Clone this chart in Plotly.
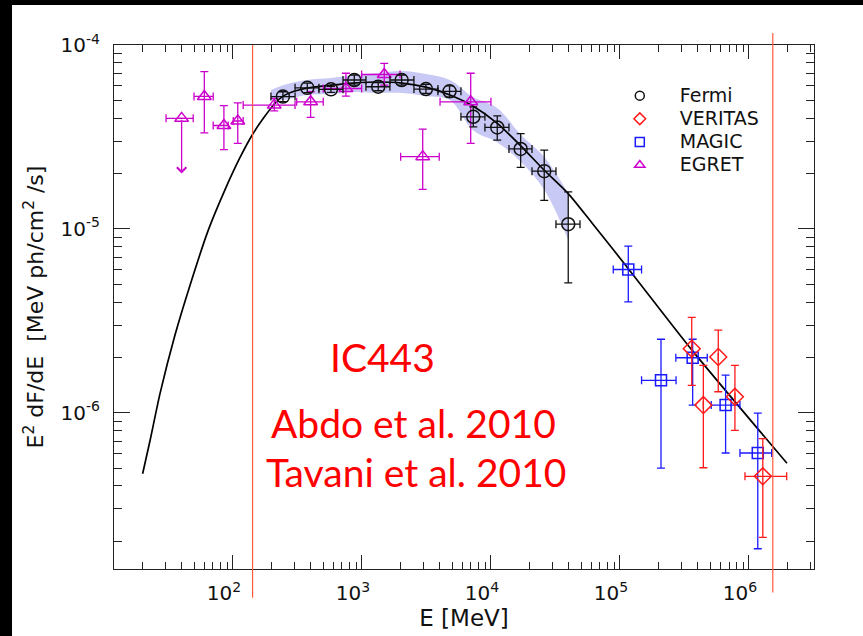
import numpy as np
import plotly.graph_objects as go

# ---------------- data ----------------
# Fermi-LAT (Abdo et al. 2010)
fermi_e = [244, 377, 575, 872, 1337, 2031, 3133, 4775, 7295, 11190, 16990, 25880, 39720]
fermi_e_lo = [197, 303, 464, 713, 1074, 1648, 2529, 3882, 5851, 8977, 13790, 20800, 31900]
fermi_e_hi = [303, 464, 713, 1074, 1648, 2529, 3882, 5851, 8977, 13790, 20800, 31900, 48980]
fermi_f = [5.24e-5, 5.85e-5, 5.74e-5, 6.45e-5, 5.93e-5, 6.45e-5, 5.76e-5, 5.60e-5,
           4.07e-5, 3.56e-5, 2.72e-5, 2.06e-5, 1.06e-5]
fermi_f_hi = [5.57e-5, 6.21e-5, 5.96e-5, 6.87e-5, 6.24e-5, 6.87e-5, 6.11e-5, 6.00e-5,
              4.61e-5, 4.12e-5, 3.30e-5, 2.68e-5, 1.59e-5]
fermi_f_lo = [4.92e-5, 5.51e-5, 5.53e-5, 6.05e-5, 5.64e-5, 6.05e-5, 5.46e-5, 5.21e-5,
              3.59e-5, 3.04e-5, 2.16e-5, 1.43e-5, 5.08e-6]

# Fermi systematic band
band_e = [197, 244, 374, 575, 866, 1330, 2034, 3133, 4800, 7250, 11150, 17100, 25900, 39700]
band_hi = [5.69e-5, 6.05e-5, 6.45e-5, 6.61e-5, 6.87e-5, 7.05e-5, 7.22e-5, 6.95e-5, 6.45e-5,
           5.21e-5, 4.54e-5, 3.24e-5, 2.46e-5, 1.56e-5]
band_lo = [5.02e-5, 5.02e-5, 5.35e-5, 5.41e-5, 5.55e-5, 5.48e-5, 5.48e-5, 5.27e-5, 5.02e-5,
           3.44e-5, 2.96e-5, 2.31e-5, 1.63e-5, 8.68e-6]

# EGRET (Tavani et al. 2010)
egret_e = [40.0, 60.0, 85.1, 109, 209, 400, 751, 1489, 2958, 6966]
egret_e_lo = [30.3, 49.9, 70.3, 100.5, 120, 312, 501, 995, 1995, 4030]
egret_e_hi = [49.2, 70.3, 92.0, 120, 303, 501, 995, 1973, 3972, 10000]
egret_f = [3.99e-5, 5.25e-5, 3.65e-5, 3.86e-5, 4.71e-5, 4.91e-5, 5.80e-5, 6.91e-5, 2.47e-5, 4.91e-5]
egret_f_hi = [None, 7.16e-5, 4.68e-5, 4.85e-5, 5.13e-5, 5.57e-5, 7.02e-5, 7.95e-5, 3.49e-5, 7.02e-5]
egret_f_lo = [None, 3.33e-5, 2.70e-5, 2.92e-5, 4.38e-5, 4.04e-5, 5.27e-5, 6.05e-5, 1.64e-5, 2.92e-5]
egret_ul_tip = 2.00e-5   # arrow tip of the upper limit (first EGRET point)

# MAGIC
magic_e = [1.16e5, 2.08e5, 3.66e5, 6.59e5, 1.17e6]
magic_e_lo = [8.87e4, 1.47e5, 2.71e5, 5.10e5, 8.51e5]
magic_e_hi = [1.47e5, 2.72e5, 4.75e5, 8.51e5, 1.50e6]
magic_f = [6.01e-6, 1.50e-6, 1.99e-6, 1.10e-6, 6.04e-7]
magic_f_hi = [8.05e-6, 2.51e-6, 2.51e-6, 1.60e-6, 9.96e-7]
magic_f_lo = [4.01e-6, 5.00e-7, 1.10e-6, 6.04e-7, 1.82e-7]

# VERITAS
veritas_e = [3.60e5, 4.43e5, 5.78e5, 7.78e5, 1.28e6]
veritas_e_lo = [None, None, None, None, 9.31e5]
veritas_e_hi = [None, None, None, None, 1.96e6]
veritas_f = [2.23e-6, 1.10e-6, 2.01e-6, 1.22e-6, 4.51e-7]
veritas_f_hi = [3.30e-6, 1.81e-6, 2.81e-6, 1.81e-6, 7.23e-7]
veritas_f_lo = [1.41e-6, 5.02e-7, 1.30e-6, 8.02e-7, 2.10e-7]

# model curve
model_e = [19.95, 22.8, 27.2, 35.5, 46.5, 64.4, 86.7, 113, 141, 172, 212, 245, 303, 375, 575,
           867, 1330, 2042, 3133, 4808, 7244, 11140, 17100, 25760, 39540, 61800, 115300,
           361400, 1.97e6]
model_f = [4.66e-7, 7.08e-7, 1.27e-6, 2.64e-6, 4.94e-6, 9.84e-6, 1.63e-5, 2.43e-5, 3.24e-5,
           3.99e-5, 4.82e-5, 5.27e-5, 5.62e-5, 5.83e-5, 6.05e-5, 6.21e-5, 6.29e-5, 6.21e-5,
           5.90e-5, 5.35e-5, 4.66e-5, 3.76e-5, 2.82e-5, 2.09e-5, 1.56e-5, 1.06e-5, 6.11e-6,
           2.19e-6, 5.31e-7]

# energy thresholds (vertical red lines)
threshold_e = [142, 1.53e6]

x_tickvals = [1e2, 1e3, 1e4, 1e5, 1e6]
x_ticktext = ["10<sup>2</sup>", "10<sup>3</sup>", "10<sup>4</sup>", "10<sup>5</sup>", "10<sup>6</sup>"]
y_tickvals = [1e-6, 1e-5, 1e-4]
y_ticktext = ["10<sup>-6</sup>", "10<sup>-5</sup>", "10<sup>-4</sup>"]
x_minor = [m * 10 ** k for k in range(1, 7) for m in range(2, 10)]
y_minor = [m * 10.0 ** k for k in range(-7, -4) for m in range(2, 10)]

legend_names = ["Fermi", "VERITAS", "MAGIC", "EGRET"]
legend_symbols = ["circle-open", "diamond-open", "square-open", "triangle-up-open"]
legend_colors = ["#111111", "#ff1a1a", "#1a1aff", "#cc00cc"]

text_lines = ["IC443", "Abdo et al. 2010", "Tavani et al. 2010"]


def err(center, hi, lo):
    plus = [None if h is None else h - c for c, h in zip(center, hi)]
    minus = [None if l is None else c - l for c, l in zip(center, lo)]
    return plus, minus


fig = go.Figure()

# band
fig.add_trace(go.Scatter(x=band_e, y=band_lo, mode="lines", line=dict(width=0, shape="spline"),
                         showlegend=False, hoverinfo="skip"))
fig.add_trace(go.Scatter(x=band_e, y=band_hi, mode="lines", line=dict(width=0, shape="spline"),
                         fill="tonexty", fillcolor="#c9c9f6", showlegend=False, hoverinfo="skip"))

# model
fig.add_trace(go.Scatter(x=model_e, y=model_f, mode="lines",
                         line=dict(color="black", width=1.7, shape="spline", smoothing=0.7),
                         showlegend=False))


def add_points(e, elo, ehi, f, fhi, flo, color, symbol, size):
    xp, xm = err(e, ehi, elo)
    yp, ym = err(f, fhi, flo)
    fig.add_trace(go.Scatter(
        x=e, y=f, mode="markers",
        marker=dict(symbol=symbol, size=size, color=color, line=dict(color=color, width=1.5)),
        error_x=dict(type="data", symmetric=False, array=xp, arrayminus=xm,
                     color=color, thickness=1.3, width=4),
        error_y=dict(type="data", symmetric=False, array=yp, arrayminus=ym,
                     color=color, thickness=1.3, width=4),
        showlegend=False))


add_points(egret_e, egret_e_lo, egret_e_hi, egret_f, egret_f_hi, egret_f_lo,
           legend_colors[3], "triangle-up-open", 12)
add_points(fermi_e, fermi_e_lo, fermi_e_hi, fermi_f, fermi_f_hi, fermi_f_lo,
           legend_colors[0], "circle-open", 13)
add_points(magic_e, magic_e_lo, magic_e_hi, magic_f, magic_f_hi, magic_f_lo,
           legend_colors[2], "square-open", 11)
add_points(veritas_e, veritas_e_lo, veritas_e_hi, veritas_f, veritas_f_hi, veritas_f_lo,
           legend_colors[1], "diamond-open", 13)

# legend-only entries
for name, sym, col in zip(legend_names, legend_symbols, legend_colors):
    fig.add_trace(go.Scatter(x=[None], y=[None], mode="markers",
                             name="<span style='font-size:19px'>%s</span>" % name,
                             marker=dict(symbol=sym, size=9, color=col, line=dict(color=col, width=1.5))))

# upper-limit arrow
fig.add_annotation(x=np.log10(egret_e[0]), y=np.log10(egret_ul_tip),
                   ax=np.log10(egret_e[0]), ay=np.log10(egret_f[0]),
                   xref="x", yref="y", axref="x", ayref="y", text="",
                   showarrow=True, arrowhead=4, arrowsize=1.4, arrowwidth=1.3,
                   arrowcolor=legend_colors[3])

# threshold lines
fig.add_shape(type="line", xref="x", yref="paper", x0=threshold_e[0], x1=threshold_e[0],
              y0=-0.055, y1=1.0, line=dict(color="#ff5a3c", width=1.2))
fig.add_shape(type="line", xref="x", yref="paper", x0=threshold_e[1], x1=threshold_e[1],
              y0=-0.045, y1=1.023, line=dict(color="#ff5a3c", width=1.2))

# black frame of the picture (white page inside a black border)
fig.add_shape(type="rect", xref="paper", yref="paper", x0=-0.1457, x1=1.3, y0=-0.3, y1=1.0763,
              fillcolor="white", line=dict(width=0), layer="below")

# red text
text_pos = [(0.383, 0.405), (0.428, 0.279), (0.431, 0.185)]
for t, (px, py) in zip(text_lines, text_pos):
    fig.add_annotation(x=px, y=py, xref="paper", yref="paper", text=t, showarrow=False,
                       font=dict(family="Lato", size=39, color="#ff0000"),
                       xanchor="center", yanchor="middle")

axis_common = dict(type="log", showgrid=False, zeroline=False, showline=True, linecolor="#222222",
                   linewidth=1.3, mirror="ticks", ticks="inside", tickcolor="#222222",
                   tickwidth=1.3, tickfont=dict(family="DejaVu Sans", size=20, color="#111111"))

fig.update_xaxes(**axis_common, range=[1.078, 6.504], tickvals=x_tickvals, ticktext=x_ticktext,
                 ticklen=14, ticklabelshift=-9, ticklabelstandoff=6,
                 minor=dict(tickvals=x_minor, ticks="inside", ticklen=7, tickcolor="#222222",
                            tickwidth=1.1, showgrid=False),
                 title=dict(text="E [MeV]", font=dict(family="DejaVu Sans", size=23, color="#111111"),
                            standoff=0))
fig.update_yaxes(**axis_common, range=[-6.85, -4.0], tickvals=y_tickvals, ticktext=y_ticktext,
                 ticklen=16, ticklabelstandoff=9,
                 minor=dict(tickvals=y_minor, ticks="inside", ticklen=8, tickcolor="#222222",
                            tickwidth=1.1, showgrid=False),
                 title=dict(text="E<sup>2</sup> dF/dE \u00a0[MeV ph/cm<sup>2</sup> /s]",
                            font=dict(family="DejaVu Sans", size=22, color="#111111"),
                            standoff=10))

fig.update_layout(
    width=863, height=636,
    margin=dict(l=114, r=49, t=45, b=67),
    paper_bgcolor="black", plot_bgcolor="white",
    legend=dict(x=0.694, y=0.935, xanchor="left", yanchor="top", bgcolor="rgba(0,0,0,0)",
                font=dict(family="DejaVu Sans", size=15.5, color="#111111"), tracegroupgap=0,
                itemwidth=70, traceorder="normal"),
    showlegend=True,
)

fig.write_html("out.html")
